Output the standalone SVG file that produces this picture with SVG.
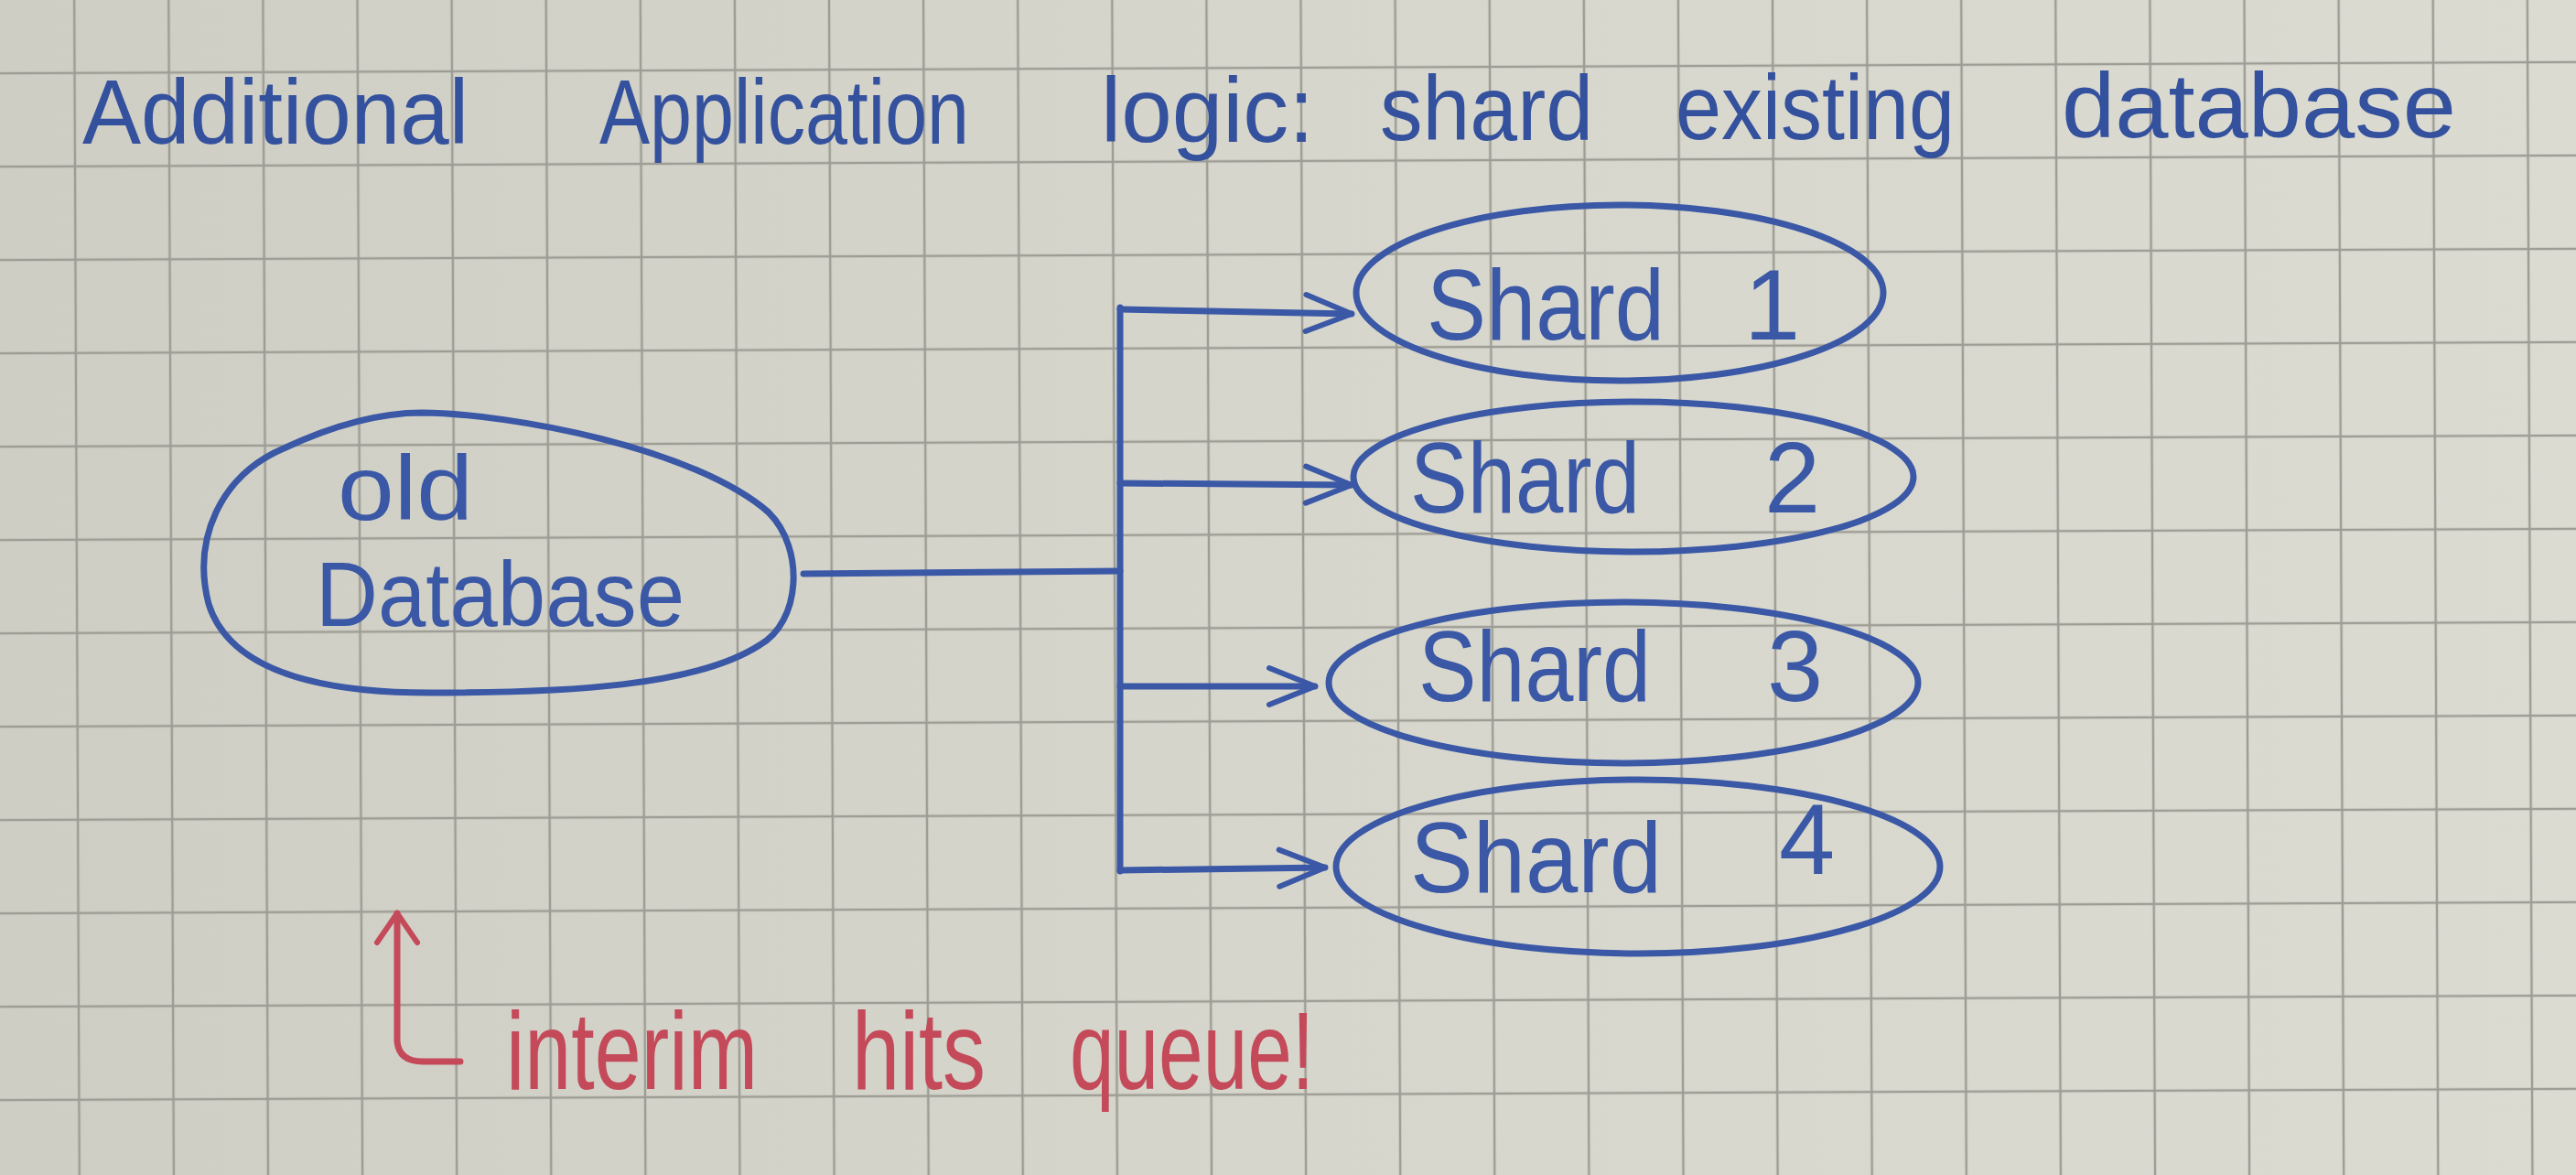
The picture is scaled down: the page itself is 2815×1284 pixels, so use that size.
<svg xmlns="http://www.w3.org/2000/svg" width="2815" height="1284" viewBox="0 0 2815 1284">
  <style>
    .ink { fill: none; stroke: #3a58a6; stroke-width: 7; stroke-linecap: round; stroke-linejoin: round; }
    .red { fill: none; stroke: #c44a5a; stroke-width: 7; stroke-linecap: round; stroke-linejoin: round; }
    .t { font-family: "Liberation Sans", Arial, sans-serif; fill: #3a58a6; }
    .title { font-size: 100px; fill: #34519e; }
    .lbl { font-size: 110px; }
    .db { font-size: 100px; }
    .note { font-family: "Liberation Sans", Arial, sans-serif; font-size: 120px; fill: #c44a5a; }
  </style>
  <defs>
    <linearGradient id="paper" x1="0" y1="0" x2="1" y2="0">
      <stop offset="0" stop-color="#cfcec4"/>
      <stop offset="0.5" stop-color="#d7d6cc"/>
      <stop offset="1" stop-color="#dcdbd2"/>
    </linearGradient>
    <pattern id="grid" patternUnits="userSpaceOnUse" x="82" y="72" width="103.1" height="102">
      <path d="M0,2 H103.1 M2,0 V102" stroke="#9e9d95" stroke-width="2.5" fill="none"/>
    </pattern>
    <marker id="arr" viewBox="-56 -26 62 52" refX="0" refY="0" markerWidth="62" markerHeight="52" markerUnits="userSpaceOnUse" orient="auto">
      <path d="M-50,-20 L0,0 L-50,20" fill="none" stroke="#3a58a6" stroke-width="6" stroke-linecap="round" stroke-linejoin="round"/>
    </marker>
    <marker id="arrRed" viewBox="-40 -26 46 52" refX="0" refY="0" markerWidth="46" markerHeight="52" markerUnits="userSpaceOnUse" orient="auto-start-reverse">
      <path d="M-32,-22 L0,0 L-32,22" fill="none" stroke="#c44a5a" stroke-width="6" stroke-linecap="round" stroke-linejoin="round"/>
    </marker>
  </defs>

  <rect x="0" y="0" width="2815" height="1284" fill="url(#paper)"/>
  <rect x="-100" y="-100" width="3015" height="1484" fill="url(#grid)" transform="rotate(-0.25 1407 642)"/>

  <g id="title">
    <text class="t title" x="90" y="157" textLength="422" lengthAdjust="spacingAndGlyphs">Additional</text>
    <text class="t title" x="655" y="157" textLength="404" lengthAdjust="spacingAndGlyphs">Application</text>
    <text class="t title" x="1203" y="155" textLength="233" lengthAdjust="spacingAndGlyphs">logic:</text>
    <text class="t title" x="1508" y="153" textLength="233" lengthAdjust="spacingAndGlyphs">shard</text>
    <text class="t title" x="1831" y="152" textLength="305" lengthAdjust="spacingAndGlyphs">existing</text>
    <text class="t title" x="2253" y="150" textLength="431" lengthAdjust="spacingAndGlyphs">database</text>
  </g>

  <g id="old-database">
    <path class="ink" d="M461,451 C560,452 760,490 840,560 C880,600 875,680 830,705 C760,750 620,757 470,757 C340,757 250,730 228,660 C210,590 240,520 310,490 C370,462 420,451 461,451 Z"/>
    <text class="t db" x="369" y="568" textLength="148" lengthAdjust="spacingAndGlyphs">old</text>
    <text class="t db" x="345" y="684" textLength="403" lengthAdjust="spacingAndGlyphs">Database</text>
  </g>

  <g id="shard-1">
    <ellipse class="ink" cx="1770" cy="320" rx="288" ry="96"/>
    <text class="t lbl" x="1559" y="371" textLength="260" lengthAdjust="spacingAndGlyphs">Shard</text>
    <text class="t lbl" x="1906" y="371">1</text>
  </g>
  <g id="shard-2">
    <ellipse class="ink" cx="1785" cy="521" rx="306" ry="82"/>
    <text class="t lbl" x="1541" y="560" textLength="251" lengthAdjust="spacingAndGlyphs">Shard</text>
    <text class="t lbl" x="1928" y="560">2</text>
  </g>
  <g id="shard-3">
    <ellipse class="ink" cx="1774" cy="746" rx="322" ry="88"/>
    <text class="t lbl" x="1550" y="766" textLength="254" lengthAdjust="spacingAndGlyphs">Shard</text>
    <text class="t lbl" x="1931" y="766">3</text>
  </g>
  <g id="shard-4">
    <ellipse class="ink" cx="1790" cy="947" rx="330" ry="95"/>
    <text class="t lbl" x="1541" y="975" textLength="275" lengthAdjust="spacingAndGlyphs">Shard</text>
    <text class="t lbl" x="1944" y="955">4</text>
  </g>

  <g id="connectors">
    <path class="ink" d="M878,627 L1224,624"/>
    <path class="ink" d="M1224,336 L1224,952"/>
    <path class="ink" d="M1224,338 L1477,343" marker-end="url(#arr)"/>
    <path class="ink" d="M1224,528 L1477,530" marker-end="url(#arr)"/>
    <path class="ink" d="M1224,750 L1437,750" marker-end="url(#arr)"/>
    <path class="ink" d="M1224,951 L1448,948" marker-end="url(#arr)"/>
  </g>

  <g id="note">
    <path class="red" d="M434,998 L434,1138 Q436,1160 462,1160 L503,1160" marker-start="url(#arrRed)"/>
    <text class="note" x="553" y="1190" textLength="275" lengthAdjust="spacingAndGlyphs">interim</text>
    <text class="note" x="931" y="1190" textLength="146" lengthAdjust="spacingAndGlyphs">hits</text>
    <text class="note" x="1169" y="1190" textLength="267" lengthAdjust="spacingAndGlyphs">queue!</text>
  </g>
</svg>
